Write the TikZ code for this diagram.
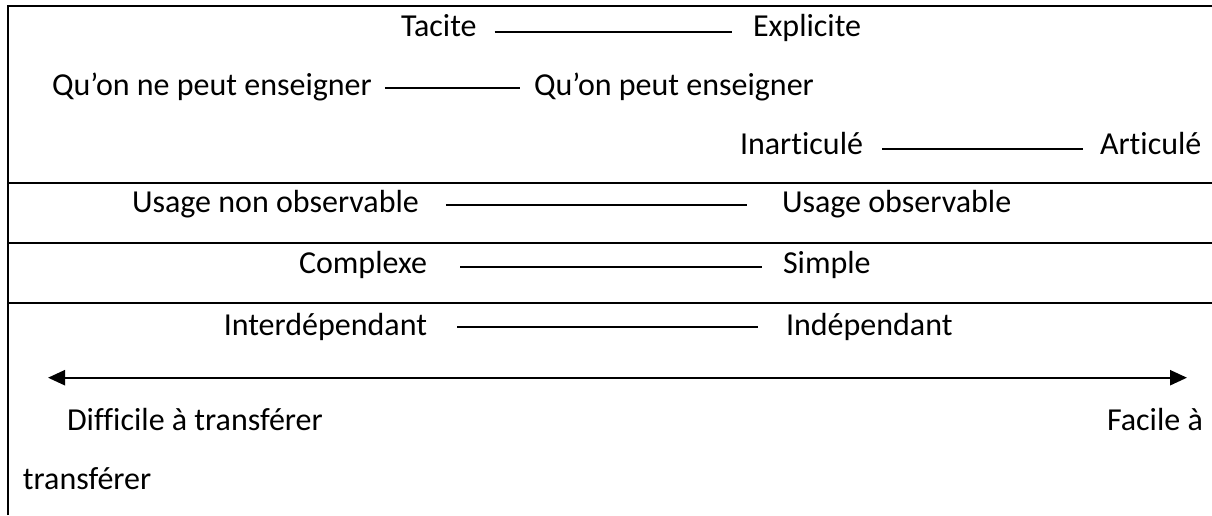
\documentclass[tikz,border=0pt]{standalone}
\usepackage{fontspec}
\setmainfont[Ligatures={NoCommon}]{Carlito}
\usetikzlibrary{arrows.meta}
\begin{document}
\begin{tikzpicture}[x=1pt,y=1pt,
  lbl/.style={inner sep=0pt,outer sep=0pt,font=\fontsize{32}{38}\selectfont,text=black},
  rulel/.style={line width=2pt,black},
  pairline/.style={line width=2pt,black},
  scaleaxis/.style={line width=2.4pt,black,{Triangle[length=17pt,width=15pt]}-{Triangle[length=17pt,width=15pt]}}]
\useasboundingbox (0,0) rectangle (1212,515);
% frame and separators
\draw[rulel] (8,0) -- (8,509) -- (1212,509);
\draw[rulel] (8,332) -- (1212,332);
\draw[rulel] (8,272.5) -- (1212,272.5);
\draw[rulel] (8,212.5) -- (1212,212.5);
% row 1
\node[lbl,anchor=base west] (l1) at (401,478.3) {Tacite};
\node[lbl,anchor=base west] (r1) at (753,478.3) {Explicite};
\draw[pairline] ([xshift=18pt,yshift=5pt]l1.base east) -- ([xshift=-21pt,yshift=5pt]r1.base west);
% row 2
\node[lbl,anchor=base west] (l2) at (52,419.5) {Qu’on ne peut enseigner};
\node[lbl,anchor=base west] (r2) at (534,419.5) {Qu’on peut enseigner};
\draw[pairline] ([xshift=13pt,yshift=7pt]l2.base east) -- ([xshift=-14pt,yshift=7pt]r2.base west);
% row 3
\node[lbl,anchor=base west] (l3) at (740,360.7) {Inarticulé};
\node[lbl,anchor=base west] (r3) at (1100,360.7) {Articulé};
\draw[pairline] ([xshift=19pt,yshift=5.5pt]l3.base east) -- ([xshift=-17pt,yshift=5.5pt]r3.base west);
% row 4
\node[lbl,anchor=base west] (l4) at (132,303) {Usage non observable};
\node[lbl,anchor=base west] (r4) at (782,303) {Usage observable};
\draw[pairline] ([xshift=27pt,yshift=7.5pt]l4.base east) -- ([xshift=-35pt,yshift=7.5pt]r4.base west);
% row 5
\node[lbl,anchor=base west] (l5) at (299,242) {Complexe};
\node[lbl,anchor=base west] (r5) at (783,242) {Simple};
\draw[pairline] ([xshift=33pt,yshift=6.5pt]l5.base east) -- ([xshift=-21pt,yshift=6.5pt]r5.base west);
% row 6
\node[lbl,anchor=base east] (l6) at (427,180) {Interdépendant};
\node[lbl,anchor=base west] (r6) at (786,180) {Indépendant};
\draw[pairline] ([xshift=30pt,yshift=8pt]l6.base east) -- ([xshift=-28pt,yshift=8pt]r6.base west);
% axis
\coordinate (axl) at (48,137.3);
\coordinate (axr) at (1187,137.3);
\draw[scaleaxis] (axl) -- (axr);
\node[lbl,anchor=base west] (dif) at (67,85) {Difficile à transférer};
\node[lbl,anchor=base west] (fac) at (1107,85) {Facile à};
\node[lbl,anchor=base west] (fac2) at (23,26) {transférer};
\end{tikzpicture}
\end{document}
